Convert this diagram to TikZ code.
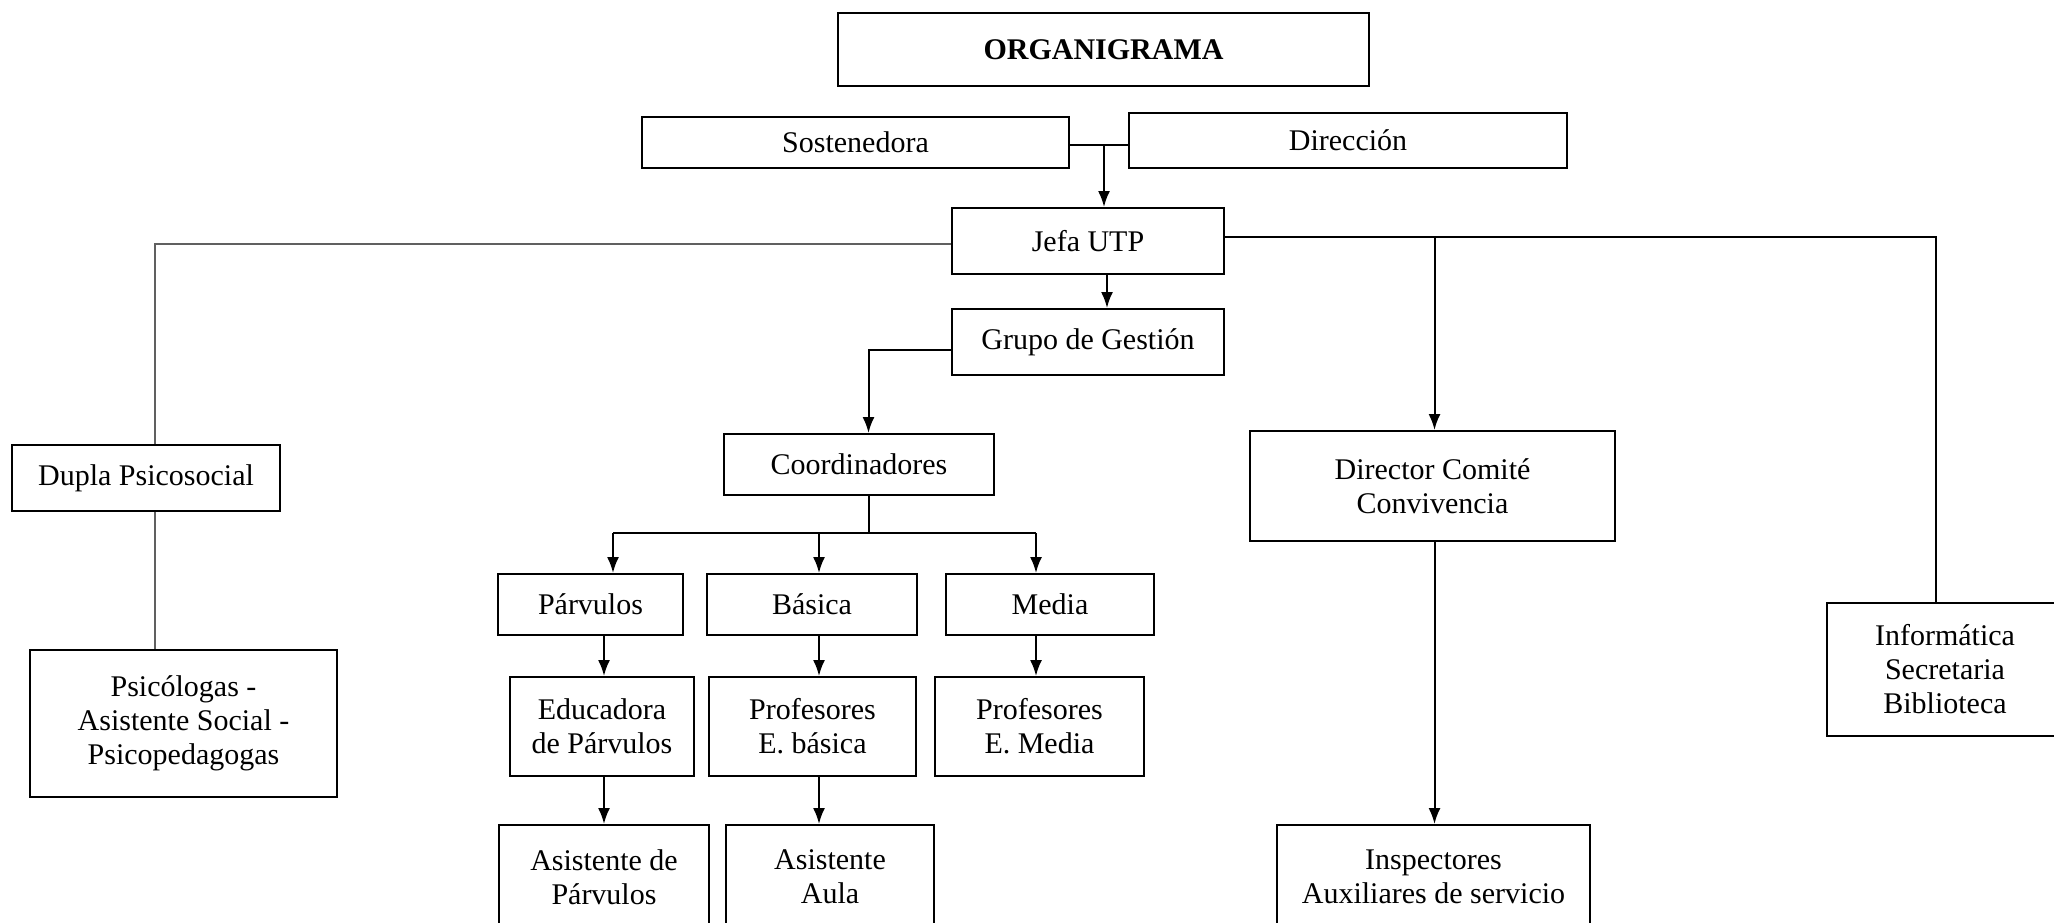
\documentclass[tikz,border=0pt]{standalone}
\usepackage{fontspec}
\setmainfont{Liberation Serif}
\usetikzlibrary{arrows.meta, positioning}

\begin{document}
\begin{tikzpicture}[x=1pt,y=-1pt,->,>={Latex[length=16pt,width=12pt]},line width=2pt,
	font=\fontsize{30}{34}\selectfont]
	\tikzset{box/.style={draw, rectangle, align=center, inner sep=0pt},
		linea/.style={-, draw=gray!75!black}}
	\clip (0,0) rectangle (2054,922);
	% cabecera
	\node[box, minimum width=531pt, minimum height=73pt, font=\fontsize{30}{34}\selectfont\bfseries] (titulo) at (1103.5,49.5) {ORGANIGRAMA};
	\node[box, minimum width=427pt, minimum height=51pt] (sost) at (855.5,142.5) {Sostenedora};
	\node[box, minimum width=438pt, minimum height=55pt] (dir) at (1348,140.5) {Dirección};
	\node[box, minimum width=272pt, minimum height=66pt] (jefa) at (1088,241) {Jefa UTP};
	\node[box, minimum width=272pt, minimum height=66pt] (grupo) at (1088,342) {Grupo de Gestión};
	% rama izquierda
	\node[box, minimum width=268pt, minimum height=66pt] (dupla) at (146,478) {Dupla Psicosocial};
	\node[box, minimum width=307pt, minimum height=147pt] (psico) at (183.5,723.5) {Psicólogas -\\Asistente Social -\\Psicopedagogas};
	% rama central
	\node[box, minimum width=270pt, minimum height=61pt] (coord) at (859,464.5) {Coordinadores};
	\node[box, minimum width=185pt, minimum height=61pt] (parv) at (590.5,604.5) {Párvulos};
	\node[box, minimum width=210pt, minimum height=61pt] (bas) at (812,604.5) {Básica};
	\node[box, minimum width=208pt, minimum height=61pt] (media) at (1050,604.5) {Media};
	\node[box, minimum width=184pt, minimum height=99pt] (educ) at (602,726.5) {Educadora\\de Párvulos};
	\node[box, minimum width=207pt, minimum height=99pt] (profb) at (812.5,726.5) {Profesores\\E. básica};
	\node[box, minimum width=209pt, minimum height=99pt] (profm) at (1039.5,726.5) {Profesores\\E. Media};
	\node[box, minimum width=210pt, minimum height=104pt] (asisp) at (604,877) {Asistente de\\Párvulos};
	\node[box, minimum width=208pt, minimum height=104pt] (asisa) at (830,877) {Asistente\\Aula};
	% rama derecha
	\node[box, minimum width=365pt, minimum height=110pt] (dcc) at (1432.5,486) {Director Comité\\Convivencia};
	\node[box, minimum width=313pt, minimum height=104pt] (insp) at (1433.5,877) {Inspectores\\Auxiliares de servicio};
	\node[box, minimum width=236pt, minimum height=133pt] (info) at (1945,669.5) {Informática\\Secretaria\\Biblioteca};
	% puntos de enlace
	\coordinate (enlace) at (1104,145);
	\coordinate (izq) at (154.6,243.7);
	\coordinate (der) at (1936,237);
	\coordinate (comite) at (1434.5,237);
	\coordinate (codo) at (868.5,350);
	\coordinate (reparto) at (868.5,533);
	\coordinate (cparv) at (604,533);
	\coordinate (cbas) at (819,533);
	\coordinate (cmedia) at (1036,533);

	\draw[-] (sost.east |- enlace) -- (dir.west |- enlace);
	\draw (enlace) -- (enlace |- jefa.north);
	\draw (jefa.south -| 1107,0) -- (grupo.north -| 1107,0);
	\draw[linea] (jefa.west |- izq) -| (dupla.north -| izq);
	\draw[linea] (dupla.south -| izq) -- (psico.north -| izq);
	\draw[-] (jefa.east |- der) -| (info.north -| der);
	\draw (comite) -- (dcc.north -| comite);
	\draw (grupo.west |- codo) -| (coord.north -| codo);
	\draw[-] (coord.south -| reparto) -- (reparto);
	\draw[-] (613,533) -- (cmedia);
	\draw (613,533) -- (613,533 |- parv.north);
	\path
		(cbas)
			edge (cbas |- bas.north)
		(cmedia)
			edge (cmedia |- media.north)
		(parv.south -| cparv)
			edge (educ.north -| cparv)
		(educ.south -| cparv)
			edge (asisp.north -| cparv)
		(bas.south -| cbas)
			edge (profb.north -| cbas)
		(profb.south -| cbas)
			edge (asisa.north -| cbas)
		(media.south -| cmedia)
			edge (profm.north -| cmedia)
		(dcc.south -| comite)
			edge (insp.north -| comite);
\end{tikzpicture}
\end{document}
